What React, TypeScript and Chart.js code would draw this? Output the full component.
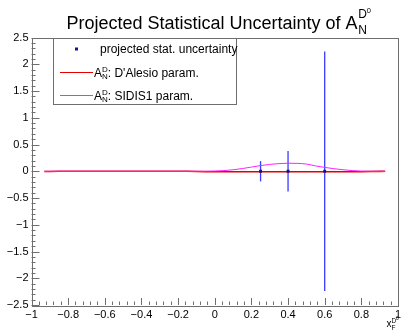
import React, { useEffect, useRef } from 'react';
import { Chart, registerables } from 'chart.js';

Chart.register(...registerables);

// ---- data ----
const curveX = [-0.93, -0.9, -0.85, -0.8, -0.75, -0.7, -0.65, -0.6, -0.55, -0.5, -0.45, -0.4, -0.35, -0.3, -0.25, -0.2, -0.15, -0.1, -0.05, 0, 0.05, 0.1, 0.15, 0.2, 0.25, 0.3, 0.35, 0.4, 0.45, 0.5, 0.55, 0.6, 0.65, 0.7, 0.75, 0.8, 0.85, 0.9, 0.93];
const dalesioY = [-0.006, -0.004, 0, 0, 0, 0, 0, 0, 0, 0, 0, 0, 0, 0, 0, 0, 0, -0.004, -0.008, -0.01, -0.01, -0.01, -0.01, -0.01, -0.01, -0.01, -0.01, -0.01, -0.01, -0.01, -0.01, -0.01, -0.01, -0.01, -0.01, -0.01, -0.006, -0.002, 0];
const sidis1Y = [0, 0, 0, 0, 0, 0, 0, 0, 0, 0, 0, 0, 0, 0, 0, 0, 0, 0, 0.002, 0.005, 0.012, 0.028, 0.05, 0.078, 0.105, 0.128, 0.143, 0.15, 0.147, 0.135, 0.1, 0.072, 0.048, 0.028, 0.013, 0.004, 0.001, 0, 0];
const pointX = [0.25, 0.4, 0.6];
const pointY = [0, 0, 0];
const pointErr = [0.19, 0.38, 2.24];
const xTicks = [-1, -0.8, -0.6, -0.4, -0.2, 0, 0.2, 0.4, 0.6, 0.8, 1];
const yTicks = [-2.5, -2, -1.5, -1, -0.5, 0, 0.5, 1, 1.5, 2, 2.5];

const FONT = '"Liberation Sans", Arial, Helvetica, sans-serif';
const FRAME = '#6e6e6e';
const MARKER = '#14148c';
const ERRC = '#3a3aff';
const RED = '#e60000';
const MAG = '#ff22ff';

const fmt = (v: number) => {
  const s = String(parseFloat(v.toFixed(2)));
  return s.replace('-', '\u2212');
};

const rootPlugin = {
  id: 'rootStyle',
  beforeDatasetsDraw(chart: any) {
    const ctx = chart.ctx;
    const xs = chart.scales.x;
    const ys = chart.scales.y;
    ctx.save();
    ctx.strokeStyle = ERRC;
    ctx.lineWidth = 1.3;
    for (let i = 0; i < pointX.length; i++) {
      const px = xs.getPixelForValue(pointX[i]);
      const y1 = ys.getPixelForValue(pointY[i] + pointErr[i]);
      const y2 = ys.getPixelForValue(pointY[i] - pointErr[i]);
      ctx.beginPath();
      ctx.moveTo(px, y1);
      ctx.lineTo(px, y2);
      ctx.stroke();
    }
    ctx.restore();
  },
  afterDraw(chart: any) {
    const ctx = chart.ctx;
    const a = chart.chartArea;
    const xs = chart.scales.x;
    const ys = chart.scales.y;
    ctx.save();
    // frame
    ctx.strokeStyle = FRAME;
    ctx.lineWidth = 1;
    ctx.strokeRect(Math.round(a.left) + 0.5, Math.round(a.top) + 0.5, Math.round(a.right - a.left) - 1, Math.round(a.bottom - a.top));
    // x ticks (inside, from bottom)
    ctx.beginPath();
    for (let k = 0; k <= 50; k++) {
      const v = -1 + k * 0.04;
      const px = Math.round(xs.getPixelForValue(v)) + 0.5;
      const len = k % 5 === 0 ? 7 : 3.5;
      ctx.moveTo(px, a.bottom);
      ctx.lineTo(px, a.bottom - len);
    }
    // y ticks (inside, from left)
    for (let k = 0; k <= 50; k++) {
      const v = -2.5 + k * 0.1;
      const py = Math.round(ys.getPixelForValue(v)) + 0.5;
      const len = k % 5 === 0 ? 8 : 4;
      ctx.moveTo(a.left, py);
      ctx.lineTo(a.left + len, py);
    }
    ctx.stroke();

    // tick labels
    ctx.fillStyle = '#000';
    ctx.font = `11px ${FONT}`;
    ctx.textAlign = 'center';
    ctx.textBaseline = 'middle';
    for (const v of xTicks) {
      ctx.fillText(fmt(v), xs.getPixelForValue(v), a.bottom + 10);
    }
    ctx.textAlign = 'right';
    for (const v of yTicks) {
      ctx.fillText(fmt(v), a.left - 3, ys.getPixelForValue(v));
    }

    // x axis title x_F^{D^0}
    ctx.textAlign = 'left';
    ctx.textBaseline = 'alphabetic';
    ctx.font = `10px ${FONT}`;
    ctx.fillText('x', 386.5, 327);
    ctx.font = `6.5px ${FONT}`;
    ctx.fillText('D', 391.5, 323);
    ctx.fillText('F', 391.5, 329.5);
    ctx.font = `5px ${FONT}`;
    ctx.fillText('0', 396, 319.5);

    // title
    ctx.font = `18px ${FONT}`;
    const tMain = 'Projected Statistical Uncertainty of A';
    const tx = 66.5;
    ctx.fillText(tMain, tx, 28.5);
    const tw = ctx.measureText(tMain).width;
    ctx.font = `12px ${FONT}`;
    ctx.fillText('D', tx + tw + 0.5, 18);
    ctx.fillText('N', tx + tw + 0.5, 33.5);
    const dw = ctx.measureText('D').width;
    ctx.font = `7.5px ${FONT}`;
    ctx.fillText('0', tx + tw + 0.5 + dw, 12.5);

    // legend
    const lx = 53.5, ly = Math.round(a.top) + 0.5, lw = 183, lh = 66;
    ctx.fillStyle = '#fff';
    ctx.fillRect(lx, ly, lw, lh);
    ctx.strokeStyle = FRAME;
    ctx.strokeRect(lx, ly, lw, lh);
    ctx.fillStyle = MARKER;
    ctx.fillRect(75, 47.5, 3, 3);
    ctx.fillStyle = '#000';
    ctx.font = `12px ${FONT}`;
    ctx.fillText('projected stat. uncertainty', 100, 53);

    const rows = [
      { y: 72.5, color: RED, text: ": D'Alesio param." },
      { y: 95.5, color: MAG, text: ': SIDIS1 param.' },
    ];
    for (const r of rows) {
      ctx.strokeStyle = r.color;
      ctx.lineWidth = 1;
      ctx.beginPath();
      ctx.moveTo(60, r.y);
      ctx.lineTo(93, r.y);
      ctx.stroke();
      ctx.fillStyle = '#000';
      ctx.font = `12px ${FONT}`;
      ctx.fillText('A', 94, r.y + 4.5);
      const aw = ctx.measureText('A').width;
      ctx.font = `8px ${FONT}`;
      ctx.fillText('D', 94 + aw, r.y - 1);
      ctx.fillText('N', 94 + aw, r.y + 6.5);
      const nw = ctx.measureText('N').width;
      ctx.font = `12px ${FONT}`;
      ctx.fillText(r.text, 94 + aw + nw, r.y + 4.5);
    }
    ctx.restore();
  },
};

export default function App() {
  const ref = useRef<HTMLCanvasElement | null>(null);
  useEffect(() => {
    document.body.style.margin = '0';
    const canvas = ref.current;
    if (!canvas) return;
    const chart = new Chart(canvas, {
      type: 'scatter',
      data: {
        datasets: [
          {
            label: 'projected stat. uncertainty',
            data: pointX.map((x, i) => ({ x, y: pointY[i] })),
            pointStyle: 'rect',
            pointRadius: 2,
            backgroundColor: MARKER,
            borderColor: MARKER,
            borderWidth: 0,
            showLine: false,
            order: 0,
          },
          {
            label: 'SIDIS1 param.',
            data: curveX.map((x, i) => ({ x, y: sidis1Y[i] })),
            showLine: true,
            borderColor: MAG,
            borderWidth: 1,
            pointRadius: 0,
            cubicInterpolationMode: 'monotone',
            order: 1,
          },
          {
            label: "D'Alesio param.",
            data: curveX.map((x, i) => ({ x, y: dalesioY[i] })),
            showLine: true,
            borderColor: RED,
            borderWidth: 1.6,
            pointRadius: 0,
            order: 2,
          },
        ],
      } as any,
      options: {
        responsive: false,
        animation: false,
        events: [],
        layout: { padding: { left: 31.5, right: 2.5, top: 37.5, bottom: 28 } },
        plugins: { legend: { display: false }, tooltip: { enabled: false }, title: { display: false } },
        scales: {
          x: {
            type: 'linear',
            min: -1,
            max: 1,
            ticks: { display: false, stepSize: 0.2 },
            grid: { display: false },
            border: { display: false },
            afterFit: (s: any) => { s.height = 0; },
          },
          y: {
            type: 'linear',
            min: -2.5,
            max: 2.5,
            ticks: { display: false, stepSize: 0.5 },
            grid: { display: false },
            border: { display: false },
            afterFit: (s: any) => { s.width = 0; },
          },
        },
      } as any,
      plugins: [rootPlugin],
    });
    return () => chart.destroy();
  }, []);
  return <canvas ref={ref} width={402} height={333} style={{ display: 'block' }} />;
}
